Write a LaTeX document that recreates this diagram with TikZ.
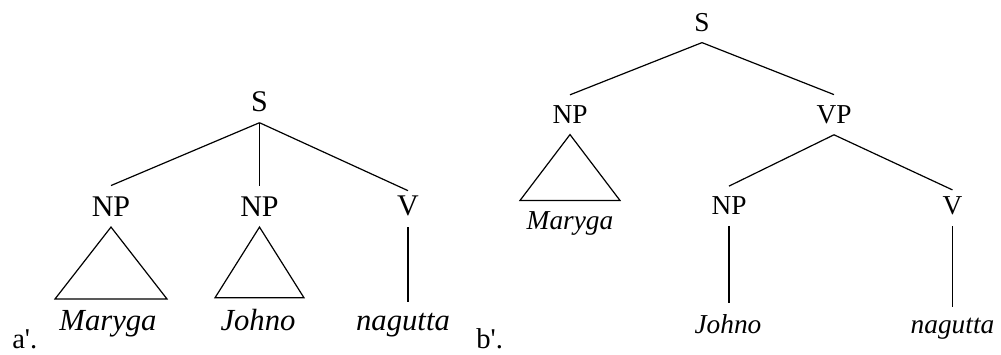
\documentclass[tikz,border=0pt]{standalone}
\usepackage{fontspec}
\setmainfont{Liberation Serif}
\usetikzlibrary{calc}

\begin{document}
\begin{tikzpicture}[x=0.75pt, y=-0.75pt,
  cat/.style={inner sep=8pt, font=\fontsize{22.5}{26}\selectfont},
  word/.style={inner sep=8pt, anchor=base, font=\fontsize{23}{26}\selectfont\itshape},
  catb/.style={cat, font=\fontsize{20.5}{24}\selectfont},
  wordb/.style={word, font=\fontsize{20.5}{24}\selectfont\itshape},
  ex/.style={inner sep=0pt, anchor=base west, font=\fontsize{21.5}{25}\selectfont},
  edge/.style={line width=0.9pt}]
\useasboundingbox (0,0) rectangle (1001,354);
% tree a'
\node[cat]  (sa)   at (259.5,101.7) {S};
\node[cat]  (npa1) at (111,206.3) {NP};
\node[cat]  (npa2) at (259.5,206.3) {NP};
\node[cat]  (va)   at (408,206.3) {V};
\node[word] (marya) at (108,330) {Maryga};
\node[word] (johna) at (258,330) {Johno};
\node[word] (naga)  at (403,330) {nagutta};
\node[ex]   (la)   at (12,348) {a\textquotesingle.};
\draw[edge] (sa.south) -- (npa1.north);
\draw[edge] (sa.south) -- (npa2.north);
\draw[edge] (sa.south) -- ([yshift=-4pt]va.north);
\draw[edge] (npa1.south) -- ($(npa1.south |- marya.north)+(-56,0)$) -- ($(npa1.south |- marya.north)+(56,0)$) -- cycle;
\draw[edge] (npa2.south) -- ($(npa2.south |- johna.north)+(-44.5,0)$) -- ($(npa2.south |- johna.north)+(44.5,0)$) -- cycle;
\draw[edge] (va.south) -- (va.south |- naga.north);
% tree b'
\node[catb]  (sb)   at (702,22.5) {S};
\node[catb]  (npb1) at (570,114.7) {NP};
\node[catb]  (vpb)  at (834,114.7) {VP};
\node[catb]  (npb2) at (729,206) {NP};
\node[catb]  (vb)   at (952.5,206) {V};
\node[wordb] (maryb) at (570,229.3) {Maryga};
\node[wordb] (johnb) at (728,333.3) {Johno};
\node[wordb] (nagb)  at (952.5,333.3) {nagutta};
\node[ex]    (lb)   at (476,348) {b\textquotesingle.};
\draw[edge] (sb.south) -- (npb1.north);
\draw[edge] (sb.south) -- (vpb.north);
\draw[edge] (vpb.south) -- (npb2.north);
\draw[edge] (vpb.south) -- ([yshift=-3pt]vb.north);
\draw[edge] (npb1.south) -- ($(npb1.south |- maryb.north)+(-50,0)$) -- ($(npb1.south |- maryb.north)+(50,0)$) -- cycle;
\draw[edge] (npb2.south) -- (npb2.south |- johnb.north);
\draw[edge] (vb.south) -- (vb.south |- nagb.north);
\end{tikzpicture}
\end{document}
